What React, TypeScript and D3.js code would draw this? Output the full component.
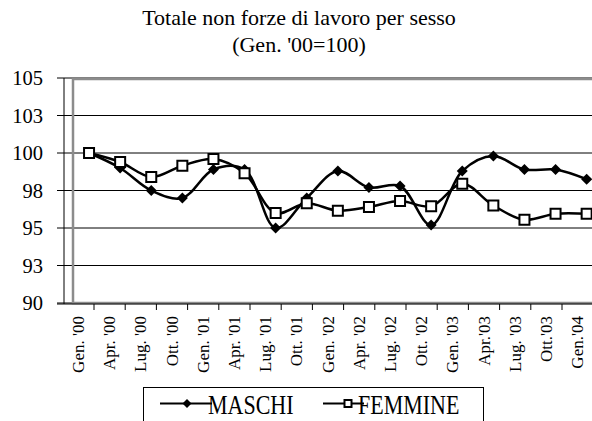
import React from "react";
import * as d3 from "d3";

const categories = [
  "Gen. '00", "Apr. '00", "Lug. '00", "Ott. '00", "Gen. '01", "Apr. '01", "Lug. '01", "Ott. '01",
  "Gen. '02", "Apr. '02", "Lug. '02", "Ott. '02", "Gen. '03", "Apr.'03", "Lug. '03", "Ott.'03", "Gen.'04",
];
const maschi = [100, 99.0, 97.5, 97.0, 98.9, 98.9, 95.0, 97.0, 98.8, 97.7, 97.8, 95.2, 98.8, 99.8, 98.9, 98.9, 98.25];
const femmine = [100, 99.4, 98.4, 99.15, 99.6, 98.65, 96.0, 96.65, 96.15, 96.4, 96.8, 96.45, 97.95, 96.5, 95.55, 95.95, 95.95];
const yTicks = [90, 92.5, 95, 97.5, 100, 102.5, 105];
const yTickLabels = ["90", "93", "95", "98", "100", "103", "105"];
const title1 = "Totale non forze di lavoro per sesso";
const title2 = "(Gen. '00=100)";

const W = 592;
const H = 421;
const FONT = "Liberation Serif, Times New Roman, DejaVu Serif, serif";

export default function App() {
  const y = d3.scaleLinear().domain([90, 105]).range([303, 78]);
  const xAxis = d3.scaleBand<string>().domain(categories).range([62.8, 62.8 + 17 * 31.2]);
  const xPts = d3.scaleBand<string>().domain(categories).range([73.5, 73.5 + 17 * 31.1]);
  const px = (i: number) => (xPts(categories[i]) as number) + xPts.bandwidth() / 2;

  const line = d3
    .line<number>()
    .x((_, i) => px(i))
    .y((v) => y(v))
    .curve(d3.curveCatmullRom.alpha(0.5));

  const diamond = (cx: number, cy: number, r: number) =>
    `M${cx},${cy - r}L${cx + r},${cy}L${cx},${cy + r}L${cx - r},${cy}Z`;

  const axisY = 304;
  const tickXs = categories.slice(1).map((c) => xAxis(c) as number);
  const ts = { fontFamily: FONT };

  return (
    <svg width={W} height={H} style={{ position: "absolute", left: 0, top: 0, background: "#fff", fontFamily: FONT }}>
      <rect x={0} y={0} width={W} height={H} fill="#fff" />
      <text style={ts} x={299} y={25} textAnchor="middle" fontSize={22}>{title1}</text>
      <text style={ts} x={299} y={52} textAnchor="middle" fontSize={22}>{title2}</text>

      {yTicks.map((t, i) => (
        <line key={i} x1={57} x2={W} y1={y(t)} y2={y(t)} stroke="#000" strokeWidth={1} />
      ))}
      <rect x={73} y={79} width={W} height={224} fill="none" stroke="#8c8c8c" strokeWidth={2.5} />
      <line x1={64} x2={64} y1={78} y2={axisY} stroke="#000" strokeWidth={1} />
      {yTicks.map((t, i) => (
        <text style={ts} key={i} x={43} y={y(t)} textAnchor="end" dominantBaseline="central" fontSize={20.5}>
          {yTickLabels[i]}
        </text>
      ))}
      <line x1={57} x2={W} y1={axisY} y2={axisY} stroke="#000" strokeWidth={1} />
      {tickXs.map((tx, i) => (
        <line key={i} x1={tx} x2={tx} y1={axisY} y2={axisY + 6} stroke="#000" strokeWidth={1} />
      ))}
      {categories.map((c, i) => {
        const cx = (xAxis(c) as number) + xAxis.bandwidth() / 2;
        return (
          <text style={ts} key={i} transform={`translate(${cx},316) rotate(-90)`} textAnchor="end" dominantBaseline="central" fontSize={17}>
            {c}
          </text>
        );
      })}

      <path d={line(maschi) || ""} fill="none" stroke="#000" strokeWidth={2.5} />
      <path d={line(femmine) || ""} fill="none" stroke="#000" strokeWidth={2.5} />
      {maschi.map((v, i) => (
        <path key={i} d={diamond(px(i), y(v), 5.5)} fill="#000" />
      ))}
      {femmine.map((v, i) => (
        <rect key={i} x={px(i) - 5} y={y(v) - 5} width={10} height={10} fill="#fff" stroke="#000" strokeWidth={2} />
      ))}

      <rect x={143.5} y={387.5} width={340} height={50} fill="#fff" stroke="#000" strokeWidth={1} />
      <text style={ts} transform="translate(208,414) scale(1,1.2)" fontSize={22}>MASCHI</text>
      <line x1={160} x2={212} y1={403.5} y2={403.5} stroke="#000" strokeWidth={2} />
      <path d={diamond(187, 403.5, 4.5)} fill="#000" />
      <text style={ts} transform="translate(358,414) scale(1,1.2)" fontSize={22}>FEMMINE</text>
      <line x1={323} x2={364} y1={403.5} y2={403.5} stroke="#000" strokeWidth={2} />
      <rect x={344.5} y={400} width={7} height={7} fill="#fff" stroke="#000" strokeWidth={2} />
    </svg>
  );
}
